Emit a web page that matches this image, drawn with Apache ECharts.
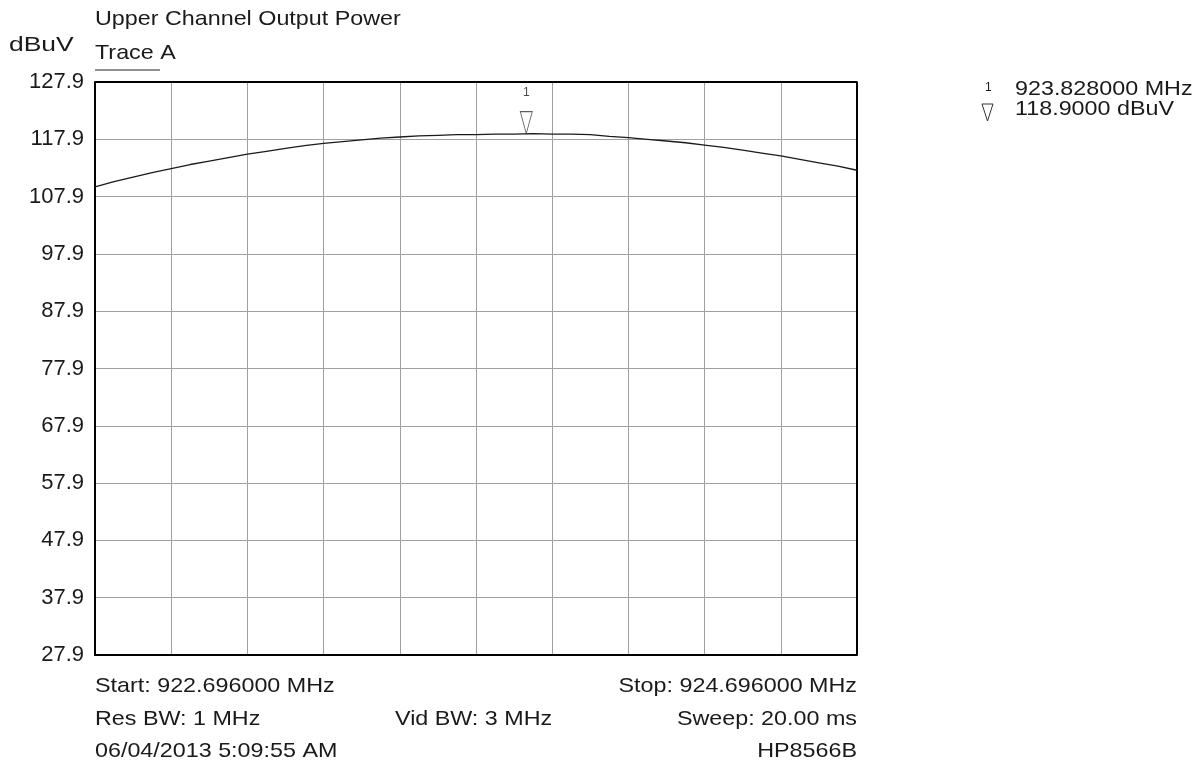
<!DOCTYPE html>
<html>
<head>
<meta charset="utf-8">
<script src="https://cdn.jsdelivr.net/npm/echarts@6/dist/echarts.min.js"></script>
<style>html,body{margin:0;padding:0;background:#fff}#c{width:1204px;height:770px}</style>
</head>
<body>
<div id="c"></div>
<script>
// ---- data ----
const FREQ_START = 922.696;   // MHz
const FREQ_STOP = 924.696;    // MHz
const REF_BOTTOM = 27.9;      // dBuV (bottom of screen)
const REF_TOP = 127.9;        // dBuV (reference level)
const yTickLabels = ['27.9','37.9','47.9','57.9','67.9','77.9','87.9','97.9','107.9','117.9','127.9'];
// frequency offsets from start (MHz)
const freqOffsets = [0.00,0.05,0.10,0.15,0.20,0.25,0.30,0.35,0.40,0.45,0.50,0.55,0.60,0.65,0.70,0.75,0.80,0.85,0.90,0.95,
  1.00,1.05,1.10,1.15,1.20,1.25,1.30,1.35,1.40,1.45,1.50,1.55,1.60,1.65,1.70,1.75,1.80,1.85,1.90,1.95,2.00];
// trace A level (dBuV)
const traceA = [109.6,110.5,111.3,112.1,112.8,113.5,114.1,114.7,115.3,115.8,116.3,116.8,117.2,117.5,117.8,118.1,118.3,118.5,118.6,118.7,
  118.7,118.8,118.8,118.9,118.8,118.8,118.7,118.4,118.2,117.9,117.6,117.3,116.9,116.5,116.0,115.5,115.0,114.4,113.8,113.2,112.5];
const markerFreq = 923.828;   // MHz
const markerLevel = 118.9;    // dBuV
const titleText = 'Upper Channel Output Power';
const unitText = 'dBuV';
const traceText = 'Trace A';
const infoLeft = ['Start: 922.696000 MHz','Res BW: 1 MHz','06/04/2013 5:09:55 AM'];
const infoMid = ['Vid BW: 3 MHz'];
const infoRight = ['Stop: 924.696000 MHz','Sweep: 20.00 ms','HP8566B'];
const markerReadout = ['923.828000 MHz','118.9000 dBuV'];

// ---- chart ----
const FONT = '"Liberation Sans", Arial, sans-serif';
const TXT = '#1a1a1a';
const chart = echarts.init(document.getElementById('c'), null, {renderer:'canvas'});
const traceData = freqOffsets.map((f,i)=>[f, traceA[i]-REF_BOTTOM]);

function txt(x,y,t,opts,sx){
  return {type:'text', x:x, y:y, scaleX:(sx||1.11), originX:0, originY:0,
    style:Object.assign({text:t, fill:TXT, font:'21px '+FONT, textVerticalAlign:'middle'}, opts||{})};
}
const graphics = [
  txt(95,19,titleText),
  txt(9,45,unitText,null,1.26),
  txt(95,53,traceText),
  {type:'line', shape:{x1:95,y1:70,x2:160,y2:70}, style:{stroke:'#222', lineWidth:1}},
  txt(95,686,infoLeft[0]),
  txt(95,719,infoLeft[1]),
  txt(95,751,infoLeft[2]),
  txt(395,719,infoMid[0]),
  txt(857,686,infoRight[0],{textAlign:'right'}),
  txt(857,719,infoRight[1],{textAlign:'right'}),
  txt(857,751,infoRight[2],{textAlign:'right'}),
  txt(985,88,'1',{font:'12px '+FONT},1),
  txt(1015,89,markerReadout[0]),
  txt(1015,109,markerReadout[1]),
  {type:'polygon', shape:{points:[[982,104],[993,104],[987.5,121]]}, style:{fill:'none', stroke:'#333', lineWidth:1}}
];

chart.setOption({
  animation:false,
  grid:{left:95, top:82, width:762, height:573, show:false},
  xAxis:{type:'value', min:0, max:FREQ_STOP-FREQ_START, interval:0.2,
    axisLine:{show:true, onZero:false, lineStyle:{color:'#000', width:2}},
    axisTick:{show:false}, axisLabel:{show:false},
    splitLine:{show:true, showMinLine:false, showMaxLine:false, lineStyle:{color:'#a0a0a0', width:1}}},
  yAxis:{type:'value', min:0, max:REF_TOP-REF_BOTTOM, interval:10,
    axisLine:{show:true, lineStyle:{color:'#000', width:2}},
    axisTick:{show:false},
    axisLabel:{show:true, margin:11, color:TXT, fontSize:22, fontFamily:'Liberation Sans, Arial, sans-serif',
      formatter:(v)=>yTickLabels[Math.round(v/10)]},
    splitLine:{show:true, showMinLine:false, showMaxLine:false, lineStyle:{color:'#a0a0a0', width:1}}},
  series:[
    {type:'line', data:traceData, showSymbol:false, symbol:'none',
      lineStyle:{color:'#1a1a1a', width:1.3}, z:3},
    {type:'scatter', data:[[markerFreq-FREQ_START, markerLevel-REF_BOTTOM]],
      symbol:'path://M0,0 L10,0 L5,20 Z', symbolSize:[12,22], symbolOffset:[0,'-50%'],
      itemStyle:{color:'rgba(255,255,255,0)', borderColor:'#333', borderWidth:1}, z:4,
      label:{show:true, position:'top', distance:12, formatter:'1', color:TXT, fontSize:12, fontFamily:'Liberation Sans, Arial, sans-serif'}},
    // top and right frame lines
    {type:'line', data:[[0,REF_TOP-REF_BOTTOM],[FREQ_STOP-FREQ_START,REF_TOP-REF_BOTTOM],[FREQ_STOP-FREQ_START,0]],
      showSymbol:false, symbol:'none', lineStyle:{color:'#000', width:2}, z:2, silent:true}
  ],
  graphic:graphics
});
</script>
</body>
</html>
